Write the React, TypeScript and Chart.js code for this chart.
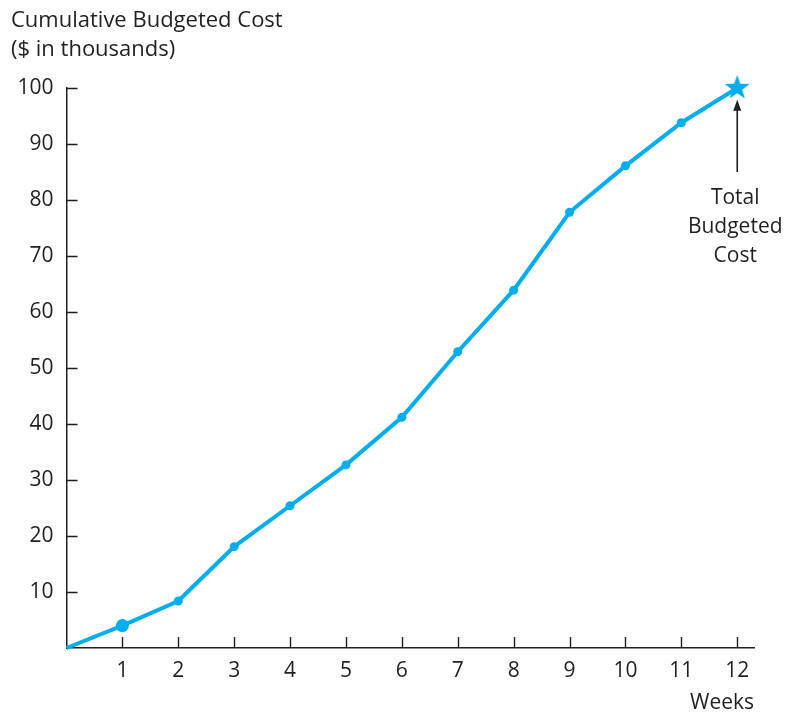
import React, { useEffect, useRef } from 'react';
import { Chart, registerables } from 'chart.js';

Chart.register(...registerables);

// ---- data ----
const weeks = [0, 1, 2, 3, 4, 5, 6, 7, 8, 9, 10, 11, 12];
const cumulativeCost = [0, 4, 8.4, 18.1, 25.4, 32.7, 41.2, 52.9, 63.9, 77.8, 86.1, 93.8, 100];
const xTickValues = [1, 2, 3, 4, 5, 6, 7, 8, 9, 10, 11, 12];
const yTickValues = [10, 20, 30, 40, 50, 60, 70, 80, 90, 100];
const titleLines = ['Cumulative Budgeted Cost', '($ in thousands)'];
const xAxisTitle = 'Weeks';
const annotationLines = ['Total', 'Budgeted', 'Cost'];
const annotationWeek = 12;
const annotationArrowFrom = 85;
const annotationArrowTo = 97.9;

const FONT = "'Open Sans', 'Noto Sans', sans-serif";
const FONT_SIZE = 21;
const TITLE_SIZE = 22;
const INK = '#231f20';
const CYAN = '#00aeef';

function makeStar(): HTMLCanvasElement {
  const size = 28;
  const c = document.createElement('canvas');
  c.width = size;
  c.height = size;
  const ctx = c.getContext('2d')!;
  const cx = size / 2;
  const cy = size / 2;
  const R = 13;
  const r = 5.3;
  ctx.beginPath();
  for (let i = 0; i < 10; i++) {
    const rad = i % 2 === 0 ? R : r;
    const a = -Math.PI / 2 + (i * Math.PI) / 5;
    const px = cx + rad * Math.cos(a);
    const py = cy + rad * Math.sin(a);
    if (i === 0) ctx.moveTo(px, py);
    else ctx.lineTo(px, py);
  }
  ctx.closePath();
  ctx.fillStyle = CYAN;
  ctx.fill();
  return c;
}

const innerTicksPlugin = {
  id: 'innerTicks',
  afterDraw(chart: any) {
    const { ctx } = chart;
    const xs = chart.scales.x;
    const ys = chart.scales.y;
    const area = chart.chartArea;
    ctx.save();
    ctx.strokeStyle = INK;
    ctx.lineWidth = 1.4;
    ctx.beginPath();
    xTickValues.forEach((v) => {
      const px = Math.round(xs.getPixelForValue(v)) + 0.5;
      ctx.moveTo(px, area.bottom);
      ctx.lineTo(px, area.bottom - 11);
    });
    yTickValues.forEach((v) => {
      const py = Math.round(ys.getPixelForValue(v)) + 0.5;
      ctx.moveTo(area.left, py);
      ctx.lineTo(area.left + 11, py);
    });
    ctx.stroke();

    // annotation arrow + text
    const ax = xs.getPixelForValue(annotationWeek);
    const yFrom = ys.getPixelForValue(annotationArrowFrom);
    const yTo = ys.getPixelForValue(annotationArrowTo);
    ctx.beginPath();
    ctx.moveTo(ax, yFrom);
    ctx.lineTo(ax, yTo + 8);
    ctx.lineWidth = 1.6;
    ctx.stroke();
    ctx.beginPath();
    ctx.moveTo(ax, yTo);
    ctx.lineTo(ax - 4, yTo + 11);
    ctx.lineTo(ax + 4, yTo + 11);
    ctx.closePath();
    ctx.fillStyle = INK;
    ctx.fill();

    ctx.font = `${FONT_SIZE}px ${FONT}`;
    ctx.textAlign = 'center';
    ctx.textBaseline = 'middle';
    annotationLines.forEach((t, i) => {
      ctx.fillText(t, ax - 2, yFrom + 26 + i * 29);
    });
    ctx.restore();
  },
};

export default function App() {
  const ref = useRef<HTMLCanvasElement | null>(null);

  useEffect(() => {
    if (!ref.current) return;
    const star = makeStar();
    const last = weeks.length - 1;
    const chart = new Chart(ref.current, {
      type: 'line',
      data: {
        labels: weeks,
        datasets: [
          {
            data: weeks.map((w, i) => ({ x: w, y: cumulativeCost[i] })),
            borderColor: CYAN,
            backgroundColor: CYAN,
            borderWidth: 4,
            tension: 0,
            clip: false as any,
            pointStyle: weeks.map((_, i) => (i === last ? star : 'circle')) as any,
            pointRadius: weeks.map((_, i) => (i === 0 ? 0 : i === 1 ? 6.5 : i === last ? 13 : 4.5)),
            pointBackgroundColor: CYAN,
            pointBorderWidth: 0,
          },
        ],
      },
      options: {
        responsive: false,
        animation: false,
        layout: { padding: { left: 11, right: 45, top: 0, bottom: 0 } },
        plugins: {
          legend: { display: false },
          tooltip: { enabled: false },
          title: {
            display: true,
            text: titleLines,
            align: 'start',
            color: INK,
            font: { family: FONT, size: TITLE_SIZE, weight: 'normal', lineHeight: 29 / TITLE_SIZE },
            padding: { top: 6, bottom: 24 },
          },
        },
        scales: {
          x: {
            type: 'linear',
            min: 0,
            max: 12.3,
            afterBuildTicks: (scale: any) => {
              scale.ticks = xTickValues.map((v) => ({ value: v }));
            },
            afterFit: (scale: any) => {
              scale.height = 66;
            },
            grid: { display: false, drawTicks: false },
            border: { display: true, color: INK, width: 1.5 },
            ticks: {
              color: INK,
              padding: 10,
              font: { family: FONT, size: FONT_SIZE },
              autoSkip: false,
              maxRotation: 0,
            },
            title: {
              display: true,
              text: xAxisTitle,
              align: 'end',
              color: INK,
              font: { family: FONT, size: FONT_SIZE, lineHeight: 1.05 },
              padding: { top: 0, bottom: 0 },
            },
          },
          y: {
            type: 'linear',
            min: 0,
            max: 100,
            afterBuildTicks: (scale: any) => {
              scale.ticks = yTickValues.map((v) => ({ value: v }));
            },
            afterFit: (scale: any) => {
              scale.width = 55.5;
            },
            grid: { display: false, drawTicks: false },
            border: { display: true, color: INK, width: 1.5 },
            ticks: {
              color: INK,
              padding: 13,
              font: { family: FONT, size: FONT_SIZE },
              autoSkip: false,
            },
          },
        },
      },
      plugins: [innerTicksPlugin],
    });
    return () => chart.destroy();
  }, []);

  return (
    <div style={{ position: 'absolute', left: 0, top: 0, width: 799, height: 714, background: '#fff' }}>
      <canvas ref={ref} width={799} height={714} style={{ width: 799, height: 714, display: 'block' }} />
    </div>
  );
}
